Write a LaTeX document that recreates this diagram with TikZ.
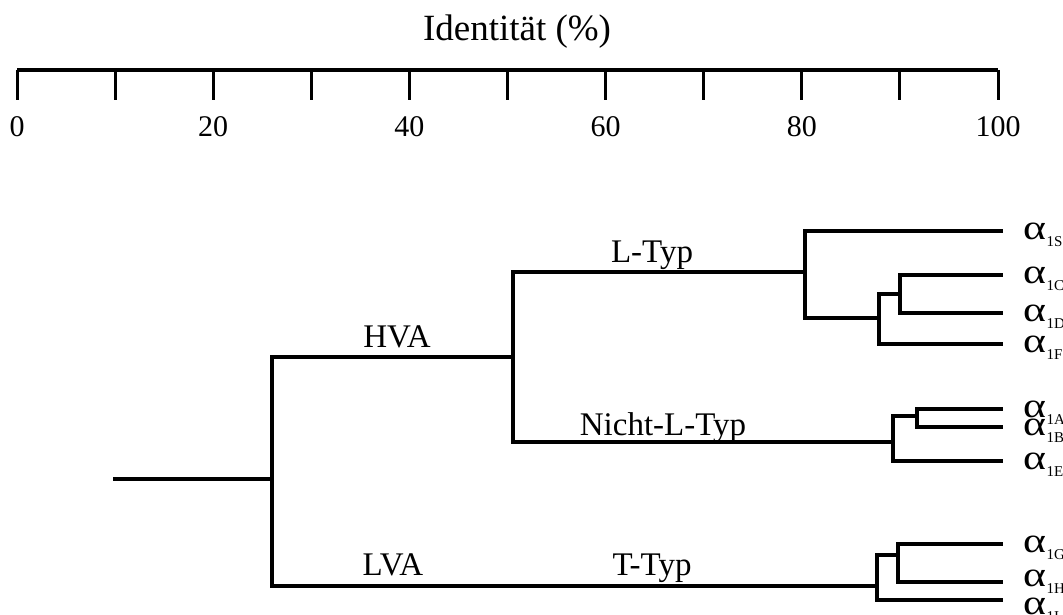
\documentclass[tikz,border=0pt]{standalone}
\usepackage{fontspec}
\setmainfont{Liberation Serif}
\usetikzlibrary{calc}
% a broad alpha with a small upright subscript
\newcommand{\alf}[1]{\scalebox{1.25}[1]{α}\kern0.5pt\raisebox{-0.2em}{\fontsize{15}{15}\selectfont #1}}
\begin{document}
\begin{tikzpicture}[x=1pt,y=-1pt,
  branch/.style={line width=3.8pt,line cap=rect},
  axisline/.style={line width=3.8pt},
  tick/.style={line width=3pt},
  title/.style={font=\fontsize{37}{40}\selectfont,anchor=base,inner sep=0pt},
  num/.style={font=\fontsize{30}{32}\selectfont,anchor=base,inner sep=0pt},
  lab/.style={font=\fontsize{33}{36}\selectfont,anchor=base,inner sep=0pt},
  leaf/.style={font=\fontsize{35}{38}\selectfont,anchor=base west,inner sep=0pt}]
\useasboundingbox (0,0) rectangle (1063,615);
\fill[white] (0,0) rectangle (1063,615);

% scale
\node[title] (ttl) at (517,41) {Identität (\%)};
\coordinate (a0) at (17,70);
\coordinate (a100) at (998,70);
\draw[axisline] (a0) -- (a100);
\foreach \i in {0,...,10} {
  \draw[tick] ($(a0)!\i/10!(a100)$) coordinate (t\i) -- ++(0,30);
}
\foreach \i/\v in {0/0,2/20,4/40,6/60,8/80,10/100} {
  \node[num] (n\i) at ([yshift=-67pt]t\i) {\v};
}

% junctions
\coordinate (root) at (115,479);
\coordinate (j0) at (272,479);
\coordinate (j1) at (513,357);
\coordinate (j2) at (805,272);
\coordinate (j3) at (879,318);
\coordinate (j4) at (900,294);
\coordinate (j5) at (893,442);
\coordinate (j6) at (917,416);
\coordinate (j7) at (877,586);
\coordinate (j8) at (898,555);

% leaf ends
\coordinate (e1S) at (1001,231);
\coordinate (e1C) at (1001,275);
\coordinate (e1D) at (1001,313);
\coordinate (e1F) at (1001,344);
\coordinate (e1A) at (1001,409);
\coordinate (e1B) at (1001,427);
\coordinate (e1E) at (1001,461);
\coordinate (e1G) at (1001,544);
\coordinate (e1H) at (1001,582);
\coordinate (e1I) at (1001,600);

% branches
\draw[branch] (root) -- (j0);
\draw[branch] (j0) |- (j1);
\draw[branch] (j0) |- (j7);
\draw[branch] (j1) |- (j2);
\draw[branch] (j1) |- (j5);
\draw[branch] (j2) |- (e1S);
\draw[branch] (j2) |- (j3);
\draw[branch] (j3) |- (j4);
\draw[branch] (j3) |- (e1F);
\draw[branch] (j4) |- (e1C);
\draw[branch] (j4) |- (e1D);
\draw[branch] (j5) |- (j6);
\draw[branch] (j5) |- (e1E);
\draw[branch] (j6) |- (e1A);
\draw[branch] (j6) |- (e1B);
\draw[branch] (j7) |- (j8);
\draw[branch] (j7) |- (e1I);
\draw[branch] (j8) |- (e1G);
\draw[branch] (j8) |- (e1H);

% branch labels
\node[lab] (hva) at (397,347) {HVA};
\node[lab] (lva) at (393,575) {LVA};
\node[lab] (ltyp) at (652,262) {L-Typ};
\node[lab] (nltyp) at (663,435) {Nicht-L-Typ};
\node[lab] (ttyp) at (652,575) {T-Typ};

% leaf labels, the alpha centred on its branch
\tikzset{leafat/.style={xshift=22pt,yshift=-8pt}}
\node[leaf] (l1S) at ([leafat]e1S) {\alf{1S}};
\node[leaf] (l1C) at ([leafat]e1C) {\alf{1C}};
\node[leaf] (l1D) at ([leafat]e1D) {\alf{1D}};
\node[leaf] (l1F) at ([leafat]e1F) {\alf{1F}};
\node[leaf] (l1A) at ([leafat]e1A) {\alf{1A}};
\node[leaf] (l1B) at ([leafat]e1B) {\alf{1B}};
\node[leaf] (l1E) at ([leafat]e1E) {\alf{1E}};
\node[leaf] (l1G) at ([leafat]e1G) {\alf{1G}};
\node[leaf] (l1H) at ([leafat,yshift=4pt]e1H) {\alf{1H}};
\node[leaf] (l1I) at ([leafat,yshift=-6pt]e1I) {\alf{1I}};
\end{tikzpicture}
\end{document}
